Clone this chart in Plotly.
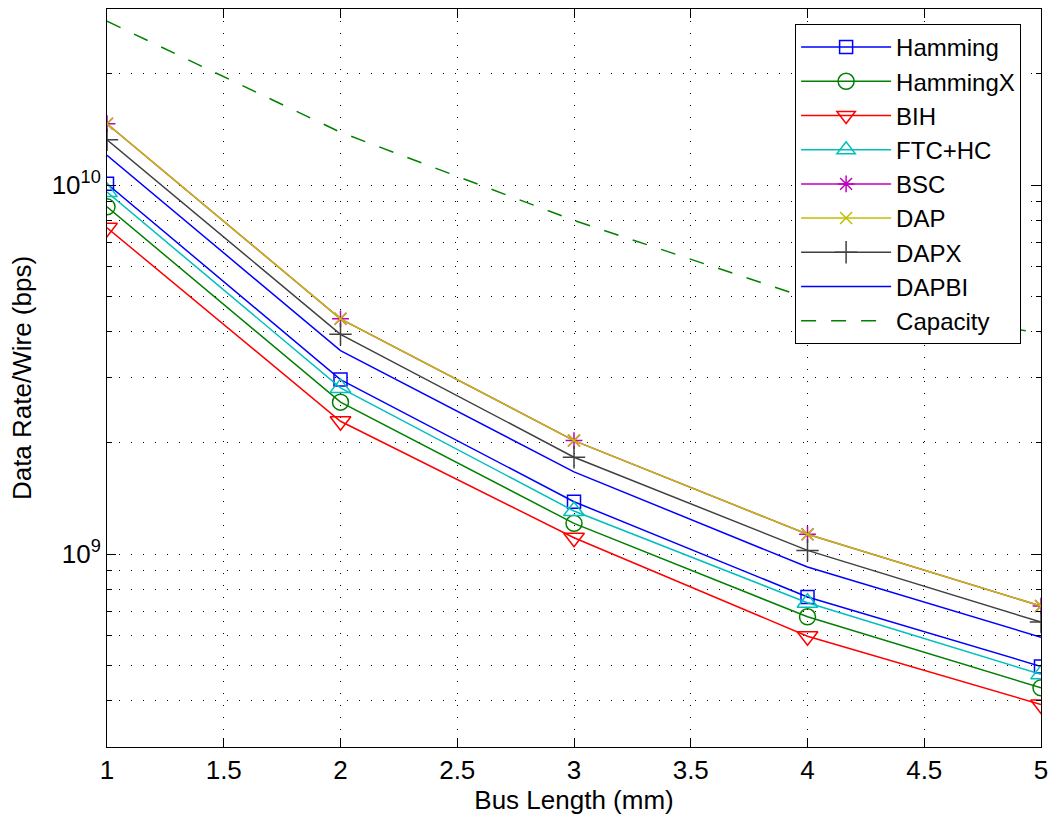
import plotly.graph_objects as go

# ---- data ----
bus_length = [1, 2, 3, 4, 5]
hamming  = [1.008e10, 2.97e9, 1.386e9, 7.65e8, 4.96e8]
hammingx = [8.73e9, 2.58e9, 1.211e9, 6.76e8, 4.34e8]
bih      = [7.66e9, 2.29e9, 1.107e9, 5.99e8, 3.91e8]
ftc_hc   = [9.57e9, 2.82e9, 1.308e9, 7.38e8, 4.72e8]
bsc      = [1.466e10, 4.34e9, 2.03e9, 1.131e9, 7.23e8]
dap      = [1.466e10, 4.34e9, 2.03e9, 1.131e9, 7.23e8]
dapx     = [1.327e10, 3.94e9, 1.83e9, 1.023e9, 6.54e8]
dapbi    = [1.204e10, 3.56e9, 1.67e9, 9.22e8, 5.95e8]
capacity = [2.78e10, 1.39e10, 8.02e9, 4.94e9, 3.97e9]

x_ticks = [1, 1.5, 2, 2.5, 3, 3.5, 4, 4.5, 5]
y_major = [1e9, 1e10]
y_major_text = ["10<sup>9</sup>", "10<sup>10</sup>"]
y_minor = [3e8, 4e8, 5e8, 6e8, 7e8, 8e8, 9e8,
           2e9, 3e9, 4e9, 5e9, 6e9, 7e9, 8e9, 9e9,
           2e10, 3e10]

FONT = "Liberation Sans, Arial, Helvetica, sans-serif"

series = [
    ("Hamming", hamming, "rgb(0,0,255)", "square-open", 13),
    ("HammingX", hammingx, "rgb(0,128,0)", "circle-open", 16),
    ("BIH", bih, "rgb(255,0,0)", "triangle-down-open", 18),
    ("FTC+HC", ftc_hc, "rgb(0,191,191)", "triangle-up-open", 18),
    ("BSC", bsc, "rgb(191,0,191)", "asterisk-open", 14),
    ("DAP", dap, "rgb(191,191,0)", "x-thin-open", 12),
    ("DAPX", dapx, "rgb(64,64,64)", "cross-thin-open", 16),
]

fig = go.Figure()
for name, vals, color, sym, size in series:
    fig.add_trace(go.Scatter(
        x=bus_length, y=vals, name=name, mode="lines+markers",
        line=dict(color=color, width=1.5),
        marker=dict(symbol=sym, size=size, color=color,
                    line=dict(color=color, width=1.5)),
    ))
fig.add_trace(go.Scatter(
    x=bus_length, y=dapbi, name="DAPBI", mode="lines",
    line=dict(color="rgb(0,0,255)", width=1.5),
))
fig.add_trace(go.Scatter(
    x=bus_length, y=capacity, name="Capacity", mode="lines",
    line=dict(color="rgb(0,128,0)", width=1.5, dash="15px,15px"),
))

grid_dash = "1px,11px"
fig.update_layout(
    width=1056, height=825,
    margin=dict(l=107, r=12, t=8, b=78),
    paper_bgcolor="white", plot_bgcolor="white",
    font=dict(family=FONT, size=26, color="black"),
    showlegend=True,
    legend=dict(
        x=0.9787, y=0.9797, xanchor="right", yanchor="top",
        bgcolor="white", bordercolor="black", borderwidth=1,
        font=dict(family=FONT, size=24, color="black"),
        itemwidth=90, tracegroupgap=0,
    ),
    xaxis=dict(
        range=[1, 5], tickvals=x_ticks, ticktext=[f"{v:g}" for v in x_ticks],
        ticks="inside", ticklen=9, tickcolor="black", tickwidth=1,
        showline=True, linecolor="black", linewidth=1, mirror="allticks",
        showgrid=True, gridcolor="black", gridwidth=1, griddash=grid_dash,
        zeroline=False,
        title=dict(text="Bus Length (mm)", font=dict(size=26), standoff=4),
        tickfont=dict(size=26),
    ),
    yaxis=dict(
        type="log", range=[8.4771, 10.4771],
        tickvals=y_major, ticktext=y_major_text,
        ticks="inside", ticklen=9, tickcolor="black", tickwidth=1,
        showline=True, linecolor="black", linewidth=1, mirror="allticks",
        showgrid=True, gridcolor="black", gridwidth=1, griddash=grid_dash,
        zeroline=False,
        minor=dict(tickvals=y_minor, ticks="inside", ticklen=5,
                   tickcolor="black", showgrid=True, gridcolor="black",
                   gridwidth=1, griddash=grid_dash),
        title=dict(text="Data Rate/Wire (bps)", font=dict(size=26), standoff=12),
        tickfont=dict(size=26),
    ),
)

fig.write_html("out.html")
